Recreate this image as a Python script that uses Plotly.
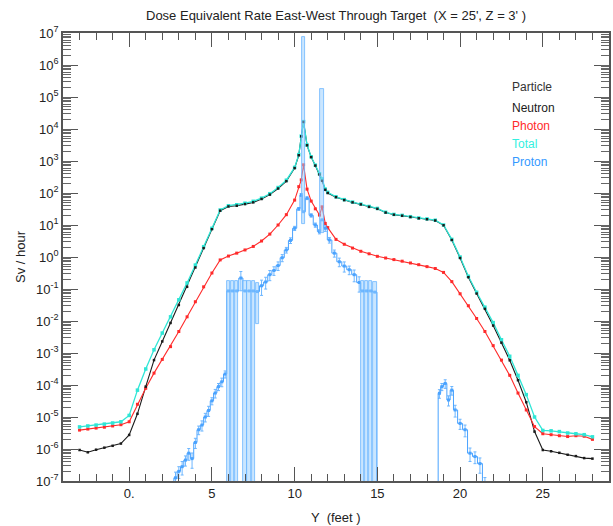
import plotly.graph_objects as go

# ---------------- data ----------------
y_feet = [-3.0, -2.5, -2.0, -1.5, -1.0, -0.5, 0.0, 0.5, 1.0, 1.5, 2.0, 2.5, 3.0, 3.5,
          4.0, 4.5, 5.0, 5.5, 6.0, 6.5, 7.0, 7.5, 8.0, 8.5, 9.0, 9.5, 10.0, 10.25,
          10.4, 10.54, 10.75, 11.0, 11.25, 11.5, 11.66, 11.85, 12.0, 12.5, 13.0, 13.5,
          14.0, 14.5, 15.0, 15.5, 16.0, 16.5, 17.0, 17.5, 18.0, 18.5, 19.0, 19.5,
          20.0, 20.5, 21.0, 21.5, 22.0, 22.5, 23.0, 23.5, 24.0, 24.5, 25.0, 25.5,
          26.0, 26.5, 27.0, 27.5, 28.0]

total = [4.9e-6, 5.25e-6, 5.6e-6, 6.0e-6, 6.5e-6, 7.1e-6, 1.12e-5, 6.9e-5, 3.16e-4, 1.26e-3,
         4.2e-3, 1.35e-2, 4.6e-2, 0.155, 0.56, 2.1, 7.9, 29.5, 40, 43, 48, 55, 69, 95,
         148, 251, 631, 1585, 6000, 17000, 3160, 1350, 740, 400, 275, 132, 105, 76, 62,
         52, 45, 38, 33, 25, 21.4, 20, 18.2, 16.6, 15.5, 14.1, 10, 3.55, 1.0, 0.25,
         0.079, 0.027, 8.9e-3, 2.6e-3, 7.9e-4, 2.0e-4, 5.0e-5, 1.0e-5, 3.8e-6, 3.7e-6,
         3.5e-6, 3.16e-6, 3.0e-6, 2.8e-6, 2.4e-6]

photon = [3.9e-6, 4.2e-6, 4.5e-6, 4.8e-6, 5.25e-6, 5.75e-6, 7.1e-6, 2.5e-5, 7.9e-5, 2.35e-4,
          6.3e-4, 1.58e-3, 4.7e-3, 1.35e-2, 4.0e-2, 0.117, 0.316, 0.81, 1.07, 1.32, 1.66,
          2.14, 3.16, 5.2, 10, 21, 60, 158, 257, 760, 132, 56, 32, 20.4, 37, 11.2, 8.3,
          3.55, 2.5, 1.9, 1.51, 1.26, 1.05, 0.93, 0.83, 0.74, 0.65, 0.575, 0.5, 0.437,
          0.33, 0.17, 0.071, 0.030, 0.012, 4.7e-3, 1.7e-3, 6.0e-4, 2.0e-4, 5.6e-5,
          1.66e-5, 5.0e-6, 3.0e-6, 2.8e-6, 2.6e-6, 2.45e-6, 2.6e-6, 2.5e-6, 2.0e-6]

neutron = [9.3e-7, 7.9e-7, 9.5e-7, 1.1e-6, 1.26e-6, 1.48e-6, 2.75e-6, 1.26e-5, 8.9e-5, 6.0e-4,
           2.3e-3, 8.7e-3, 3.16e-2, 0.117, 0.47, 1.9, 7.4, 28, 38, 40, 45, 51, 65, 89, 138,
           234, 600, 1510, 5900, 16600, 3090, 1320, 720, 380, 240, 126, 100, 74, 60, 51,
           44, 37, 32, 24.5, 21, 19.5, 17.8, 16.2, 15.1, 13.8, 9.8, 3.4, 0.93, 0.234,
           0.072, 0.024, 7.2e-3, 2.1e-3, 5.9e-4, 1.41e-4, 2.9e-5, 3.5e-6, 9.3e-7, 8.5e-7,
           7.6e-7, 6.6e-7, 6.0e-7, 5.2e-7, 5.0e-7]

proton_x = [2.6, 2.8, 3.0, 3.2, 3.4, 3.6, 3.8, 4.0, 4.2, 4.4, 4.6, 4.8, 5.0, 5.2, 5.4, 5.6,
            5.8, 6.0, 6.25, 6.5, 6.75, 7.0, 7.25, 7.5, 7.75, 8.0, 8.25, 8.5, 8.75, 9.0,
            9.25, 9.5, 9.75, 10.0, 10.25, 10.4, 10.54, 10.75, 11.0, 11.25, 11.5, 11.66,
            11.85, 12.1, 12.4, 12.7, 13.0, 13.3, 13.6, 13.9, 14.1, 14.35, 14.6, 14.85,
            15.1, 18.6, 18.75, 18.9, 19.1, 19.3, 19.5, 19.7, 20.0, 20.3, 20.6, 20.9,
            21.2, 21.5, 21.7]
proton = [1e-9, 1.26e-7, 2.0e-7, 2.8e-7, 4.5e-7, 7.4e-7, 5.0e-7, 1.6e-6, 4.0e-6, 5.6e-6,
          1.0e-5, 1.6e-5, 3.2e-5, 5.6e-5, 8.9e-5, 1.26e-4, 2.2e-4, 0.087, 0.087, 0.087,
          0.22, 0.087, 0.087, 0.087, 0.083, 0.126, 0.166, 0.28, 0.38, 0.54, 0.95, 1.66,
          3.3, 7.9, 32, 87, 26, 69, 20, 10, 6.2, 14.5, 7.9, 3.4, 1.32, 0.71, 0.52, 0.40,
          0.28, 0.16, 0.087, 0.087, 0.087, 0.08, 1e-9, 1e-9, 5.5e-5, 8.9e-5, 1.12e-4,
          3.4e-5, 6.9e-5, 1.66e-5, 6.3e-6, 4.0e-6, 7.4e-7, 5.8e-7, 3.5e-7, 8e-8, 1e-9]
# relative statistical errors (upper / lower)
proton_err_up = [0, 0.5, 0.4, 0.45, 0.35, 0.4, 0.5, 0.35, 0.3, 0.35, 0.3, 0.35, 0.25, 0.3,
                 0.25, 0.3, 0.25, 1.0, 1.0, 1.0, 0.6, 1.0, 1.0, 1.0, 0.9, 0.5, 0.4, 0.35,
                 0.3, 0.3, 0.25, 0.2, 0.2, 0.15, 0.1, 0.1, 2.85e5, 0.1, 0.12, 0.15, 0.15,
                 1.23e4, 0.2, 0.2, 0.25, 0.3, 0.35, 0.3, 0.4, 0.5, 1.0, 1.0, 1.0, 1.0, 0,
                 0, 0.3, 0.25, 0.3, 0.35, 0.3, 0.4, 0.35, 0.4, 0.45, 0.4, 0.5, 0.6, 0]
proton_err_dn = [0, 0.5, 0.4, 0.45, 0.35, 0.4, 0.5, 0.35, 0.3, 0.35, 0.3, 0.35, 0.25, 0.3,
                 0.25, 0.3, 0.25, 1.0, 1.0, 1.0, 0.6, 1.0, 1.0, 1.0, 0.9, 0.5, 0.4, 0.35,
                 0.3, 0.3, 0.25, 0.2, 0.2, 0.15, 0.1, 0.1, 0.6, 0.1, 0.12, 0.15, 0.15,
                 0.6, 0.2, 0.2, 0.25, 0.3, 0.35, 0.3, 0.4, 0.5, 1.0, 1.0, 1.0, 1.0, 0,
                 0, 0.3, 0.25, 0.3, 0.35, 0.3, 0.4, 0.35, 0.4, 0.45, 0.4, 0.5, 0.6, 0]

x_major_vals = [0, 5, 10, 15, 20, 25, 29]
x_major_text = ["0.", "5", "10", "15", "20", "25", "29"]
y_exponents = list(range(-7, 8))

legend_items = [("Particle", "#333333"), ("Neutron", "#1a1a1a"), ("Photon", "#ff2a2a"),
                ("Total", "#33f0e0"), ("Proton", "#3399ff")]

# ---------------- colours / style ----------------
C_NEU = "#1a1a1a"
C_PHO = "#ff2a2a"
C_TOT = "#2fe6d6"
C_PRO = "#4aa3ff"
FONT = "Liberation Sans, Arial, sans-serif"

# split proton bins into "box" bins (error >= 90 %) and normal error-bar bins
box_x, box_base, box_len = [], [], []
err_p, err_m = [], []
for xv, v, up, dn in zip(proton_x, proton, proton_err_up, proton_err_dn):
    if up >= 0.9:
        lo = max(v * (1 - dn), 1e-9)
        hi = v * (1 + up)
        box_x.append(xv)
        box_base.append(lo)
        box_len.append(hi - lo)
        err_p.append(0)
        err_m.append(0)
    else:
        err_p.append(v * up)
        err_m.append(v * dn)

# tick lists: major ticks with labels on the main axes,
# all (major + minor) short ticks on the overlay axes
x_all_ticks = list(range(-3, 30))
y_all_ticks = [m * 10.0 ** e for e in range(-7, 7) for m in range(1, 10)] + [1e7]

fig = go.Figure()

# neutron line (below total)
fig.add_trace(go.Scatter(x=y_feet, y=neutron, mode="lines",
                         line=dict(color=C_NEU, width=1.1), showlegend=False))
# photon
fig.add_trace(go.Scatter(x=y_feet, y=photon, mode="lines+markers",
                         line=dict(color=C_PHO, width=1.1),
                         marker=dict(color=C_PHO, size=3, symbol="square"),
                         showlegend=False))
# total
fig.add_trace(go.Scatter(x=y_feet, y=total, mode="lines+markers",
                         line=dict(color=C_TOT, width=1.3),
                         marker=dict(color=C_TOT, size=3.5, symbol="square"),
                         showlegend=False))
# neutron markers on top
fig.add_trace(go.Scatter(x=y_feet, y=neutron, mode="markers",
                         marker=dict(color=C_NEU, size=2.5, symbol="square"),
                         showlegend=False))
# proton
fig.add_trace(go.Scatter(x=proton_x, y=proton, mode="lines+markers",
                         line=dict(color=C_PRO, width=1, shape="hvh"),
                         marker=dict(color=C_PRO, size=3, symbol="square"),
                         error_y=dict(type="data", symmetric=False, array=err_p,
                                      arrayminus=err_m, color="#6db6ff",
                                      thickness=1, width=1.5),
                         showlegend=False))
# proton error boxes (on overlay axes, same ranges)
fig.add_trace(go.Bar(
    x=box_x, y=box_len, base=box_base, width=0.2, xaxis="x2", yaxis="y2",
    marker=dict(color="rgba(150,205,255,0.5)", line=dict(color="#6db6ff", width=0.8)),
    showlegend=False, hoverinfo="skip"))

axis_col = "#555555"
X_RANGE = [-4, 29]
Y_RANGE = [-7, 7]
tickfont = dict(family=FONT, size=13, color="#222222")
fig.update_layout(
    xaxis=dict(
        range=X_RANGE, showgrid=False, zeroline=False,
        showline=True, linecolor=axis_col, linewidth=1.5, mirror="ticks",
        ticks="inside", ticklen=14, tickwidth=1, tickcolor=axis_col,
        tickmode="array", tickvals=x_major_vals, ticktext=x_major_text,
        tickfont=tickfont),
    yaxis=dict(
        type="log", range=Y_RANGE, showgrid=False, zeroline=False,
        showline=True, linecolor=axis_col, linewidth=1.5, mirror="ticks",
        ticks="inside", ticklen=15, tickwidth=1, tickcolor=axis_col,
        tickmode="array", tickvals=[10.0 ** e for e in y_exponents],
        ticktext=["10<sup>%d</sup>" % e for e in y_exponents],
        tickfont=tickfont),
    xaxis2=dict(
        overlaying="x", anchor="y2", range=X_RANGE, showgrid=False, zeroline=False,
        showline=True, linecolor=axis_col, linewidth=1.5, mirror="ticks",
        ticks="inside", ticklen=7, tickwidth=1.2, tickcolor=axis_col,
        tickmode="array", tickvals=x_all_ticks, showticklabels=False),
    yaxis2=dict(
        overlaying="y", anchor="x2", type="log", range=Y_RANGE, showgrid=False,
        zeroline=False, showline=True, linecolor=axis_col, linewidth=1.5,
        mirror="ticks", ticks="inside", ticklen=8, tickwidth=1.3, tickcolor="#666666",
        tickmode="array", tickvals=y_all_ticks, showticklabels=False),
)

annotations = [
    dict(text="Dose Equivalent Rate East-West Through Target  (X = 25', Z = 3' )",
         x=0.5, y=1.0, xref="paper", yref="paper", yanchor="bottom", yshift=8,
         showarrow=False, font=dict(family=FONT, size=13, color="#222222")),
    dict(text="Sv / hour", x=0, y=0.5, xref="paper", yref="paper", xshift=-43,
         textangle=-90, showarrow=False, xanchor="center",
         font=dict(family=FONT, size=13, color="#222222")),
    dict(text="Y  (feet )", x=0.5, y=0, xref="paper", yref="paper", yshift=-36,
         showarrow=False, yanchor="middle",
         font=dict(family=FONT, size=13, color="#222222")),
]
leg_y = [87, 108, 126, 144, 162]
for (txt, col), py in zip(legend_items, leg_y):
    annotations.append(dict(text=txt, x=(512 - 63) / 548.0, y=(481 - py) / 448.0,
                            xref="paper", yref="paper", showarrow=False,
                            xanchor="left", yanchor="middle",
                            font=dict(family=FONT, size=12, color=col)))

fig.update_layout(
    width=613, height=526,
    margin=dict(l=63, r=2, t=33, b=45),
    paper_bgcolor="white", plot_bgcolor="white",
    annotations=annotations, bargap=0, showlegend=False,
)

fig.write_html("out.html")
